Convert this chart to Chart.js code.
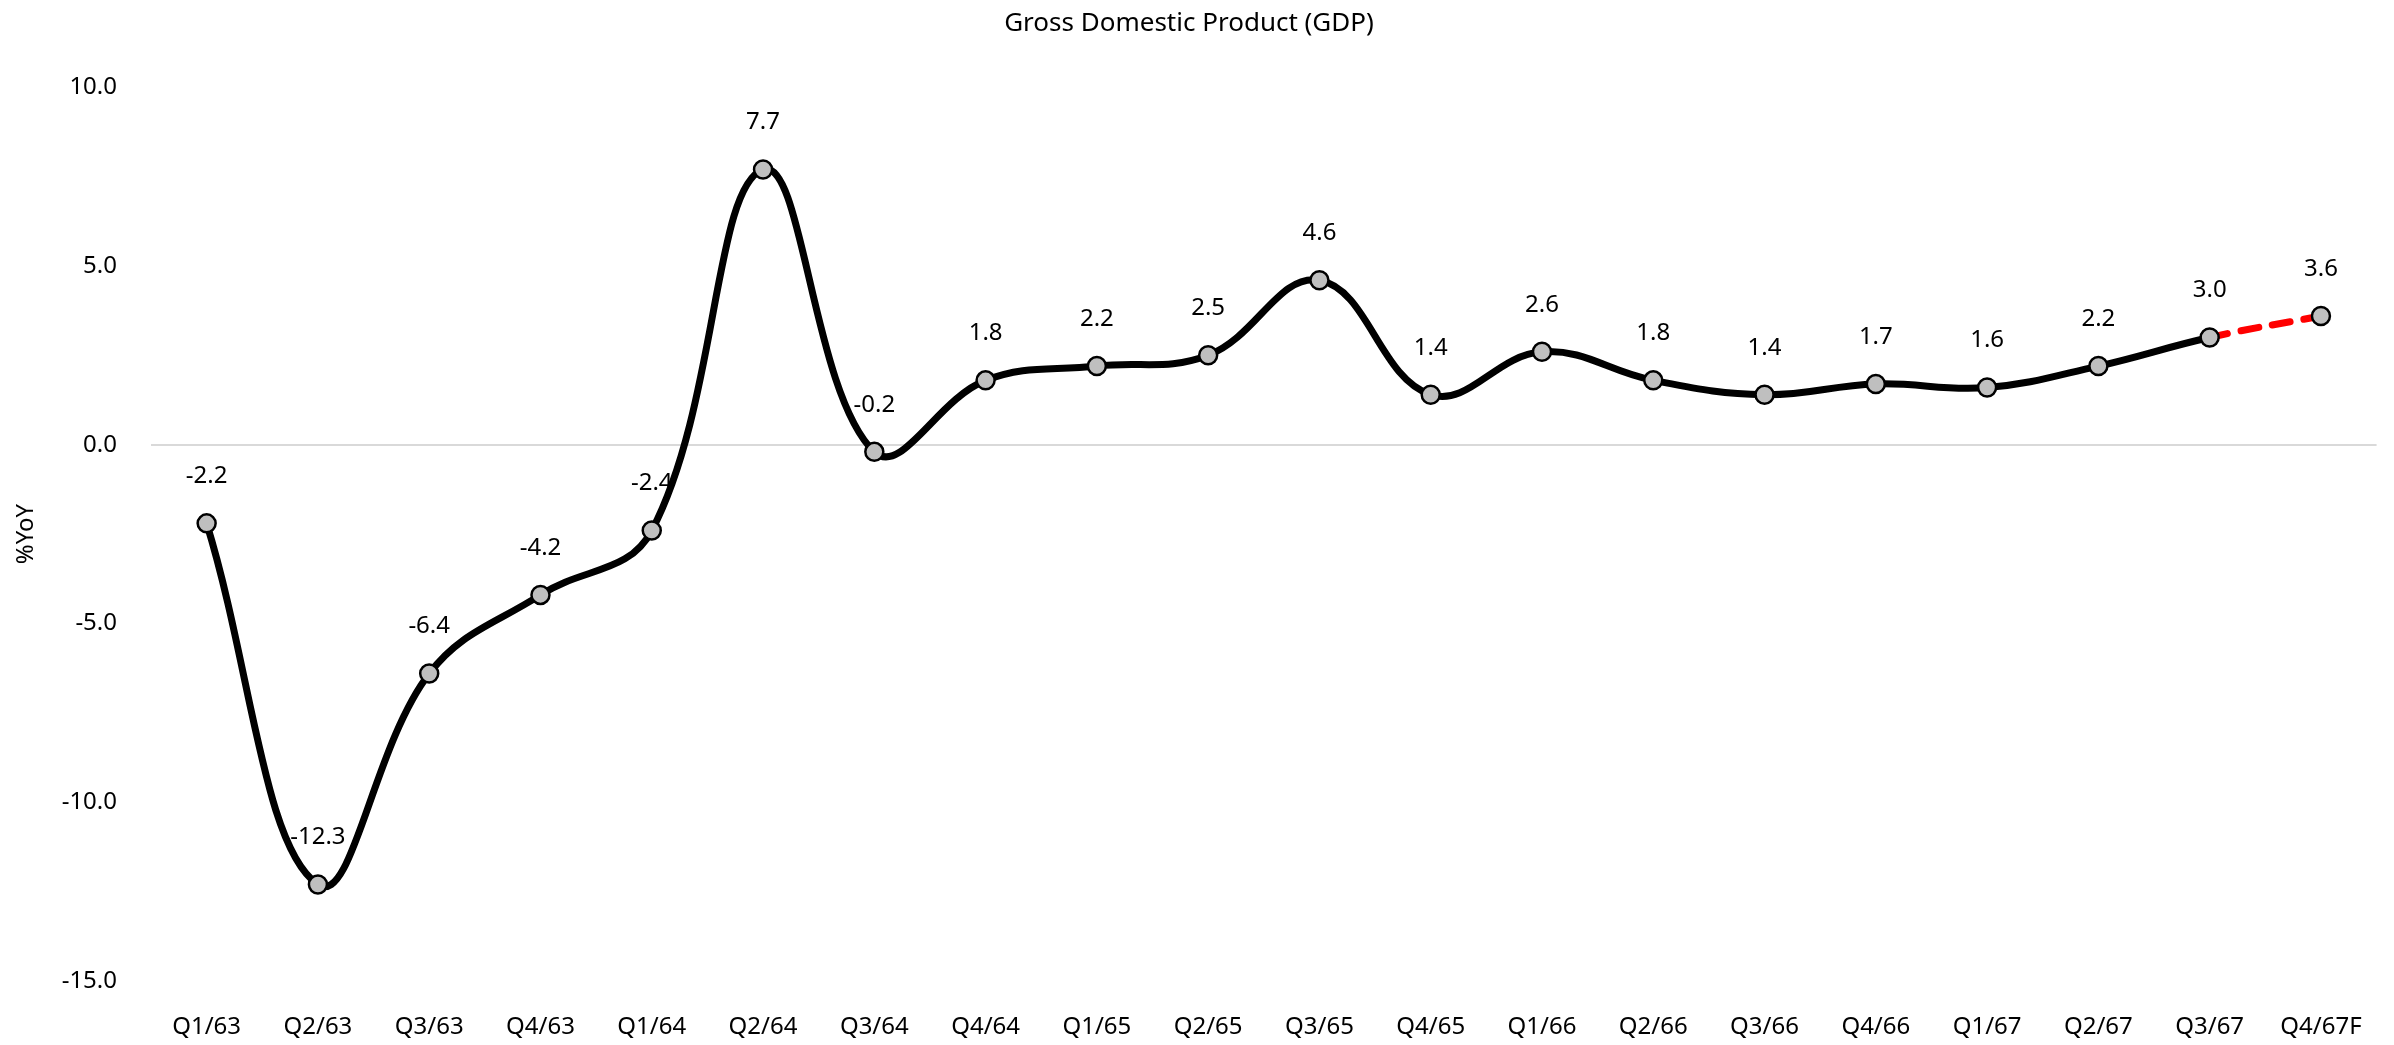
<!DOCTYPE html>
<html>
<head>
<meta charset="utf-8">
<title>Gross Domestic Product (GDP)</title>
<script src="https://cdn.jsdelivr.net/npm/chart.js@4/dist/chart.umd.min.js"></script>
<style>
  html, body { margin: 0; padding: 0; background: #fff; }
  #wrap { width: 2394px; height: 1045px; }
</style>
</head>
<body>
<div id="wrap"><canvas id="gdpChart"></canvas></div>
<script>
// datos
const quarters = ['Q1/63', 'Q2/63', 'Q3/63', 'Q4/63', 'Q1/64', 'Q2/64', 'Q3/64', 'Q4/64', 'Q1/65', 'Q2/65',
                  'Q3/65', 'Q4/65', 'Q1/66', 'Q2/66', 'Q3/66', 'Q4/66', 'Q1/67', 'Q2/67', 'Q3/67', 'Q4/67F'];
const gdpYoY = [-2.2, -12.3, -6.4, -4.2, -2.4, 7.7, -0.2, 1.8, 2.2, 2.5,
                4.6, 1.4, 2.6, 1.8, 1.4, 1.7, 1.6, 2.2, 3.0, 3.6];
const yTicks = [-15, -10, -5, 0, 5, 10];

// el tramo que termina en el pronóstico (F) va en rojo punteado
const forecastIdx = quarters.findIndex(q => q.endsWith('F'));

const FONT = "'Noto Sans', sans-serif";
Chart.defaults.font.family = FONT;
Chart.defaults.color = '#000';

// etiquetas de valor, dibujadas antes de la línea (la línea las tapa como en el original)
const valueLabels = {
    id: 'valueLabels',
    beforeDatasetsDraw(chart) {
        const ctx = chart.ctx;
        const meta = chart.getDatasetMeta(0);
        ctx.save();
        ctx.font = '24px ' + FONT;
        ctx.fillStyle = '#000';
        ctx.textAlign = 'center';
        ctx.textBaseline = 'middle';
        meta.data.forEach((pt, i) => {
            ctx.fillText(gdpYoY[i].toFixed(1), pt.x, pt.y - 47);
        });
        ctx.restore();
    }
};

new Chart(document.getElementById('gdpChart'), {
    type: 'line',
    data: {
        labels: quarters,
        datasets: [{
            label: '%YoY',
            data: gdpYoY,
            borderColor: '#000',
            borderWidth: 7,
            tension: 0.4,
            fill: false,
            pointRadius: 9,
            pointBorderWidth: 2.5,
            pointBackgroundColor: '#bfbfbf',
            pointBorderColor: '#000',
            segment: {
                borderColor: c => (c.p1DataIndex === forecastIdx ? '#ff0000' : undefined),
                borderDash: c => (c.p1DataIndex === forecastIdx ? [18, 14] : undefined)
            },
            borderCapStyle: 'round'
        }]
    },
    options: {
        responsive: true,
        maintainAspectRatio: false,
        animation: false,
        layout: { padding: { left: 0, right: 16, top: 0, bottom: 0 } },
        plugins: {
            legend: { display: false },
            tooltip: { enabled: false },
            title: {
                display: true,
                text: 'Gross Domestic Product (GDP)',
                color: '#000',
                font: { size: 26, weight: 'normal' },
                padding: { top: 8, bottom: 48 }
            }
        },
        scales: {
            x: {
                offset: true,
                afterFit: scale => { scale.height = 64; },
                grid: { display: false, drawTicks: false },
                border: { display: false },
                ticks: { font: { size: 24 }, color: '#000', padding: 32, maxRotation: 0, autoSkip: false }
            },
            y: {
                min: yTicks[0],
                max: yTicks[yTicks.length - 1],
                afterBuildTicks: scale => { scale.ticks = yTicks.map(v => ({ value: v })); },
                afterFit: scale => { scale.width = 151; },
                grid: {
                    drawTicks: false,
                    lineWidth: 2,
                    color: c => (c.tick && c.tick.value === 0 ? '#d9d9d9' : 'rgba(0,0,0,0)')
                },
                border: { display: false },
                ticks: {
                    font: { size: 24 },
                    color: '#000',
                    padding: 34,
                    callback: v => Number(v).toFixed(1)
                },
                title: {
                    display: true,
                    text: '%YoY',
                    color: '#000',
                    font: { size: 24 },
                    padding: { top: 12, bottom: 0 }
                }
            }
        }
    },
    plugins: [valueLabels]
});
</script>
</body>
</html>
